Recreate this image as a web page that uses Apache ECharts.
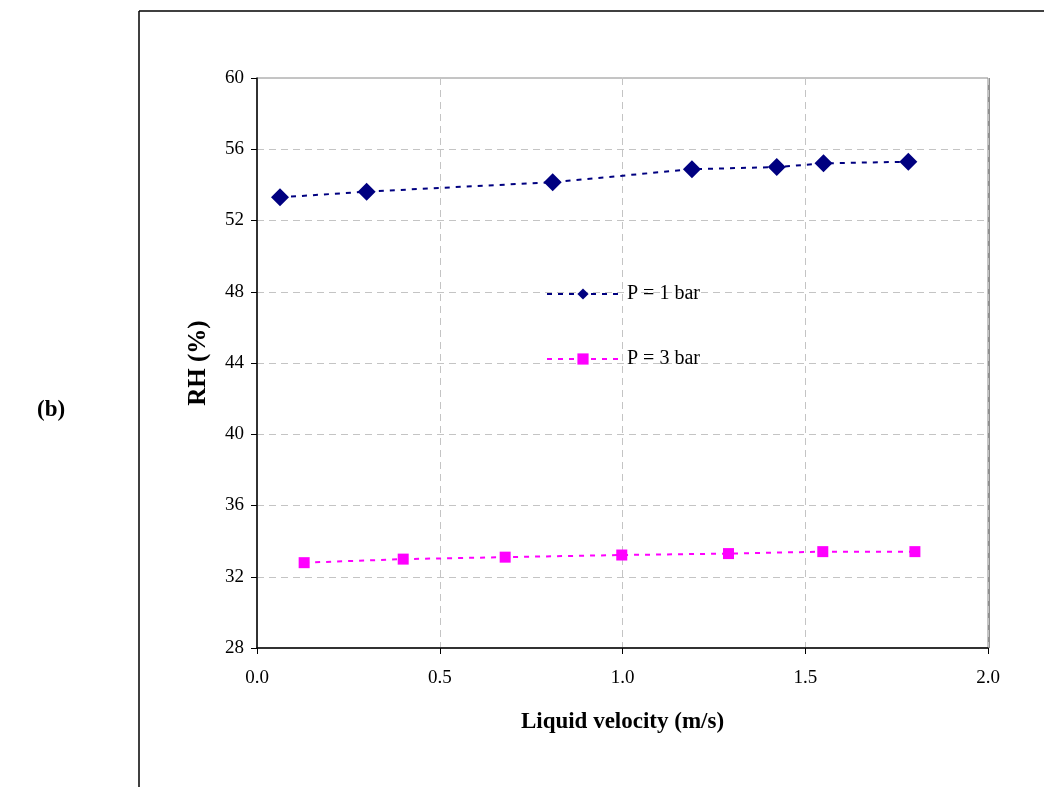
<!DOCTYPE html>
<html>
<head>
<meta charset="utf-8">
<script src="https://cdn.jsdelivr.net/npm/echarts@6/dist/echarts.min.js"></script>
<style>
html,body{margin:0;padding:0;background:#fff;}
#chart{width:1044px;height:787px;}
</style>
</head>
<body>
<div id="chart"></div>
<script>
// Data
const seriesNames = ['P = 1 bar', 'P = 3 bar'];
const p1Velocity = [0.063, 0.30, 0.809, 1.19, 1.422, 1.55, 1.782];
const p1RH       = [53.3, 53.62, 54.15, 54.88, 55.0, 55.21, 55.3];
const p3Velocity = [0.129, 0.40, 0.679, 0.998, 1.29, 1.548, 1.80];
const p3RH       = [32.79, 32.99, 33.1, 33.22, 33.3, 33.41, 33.41];
const xTicks = [0.0, 0.5, 1.0, 1.5, 2.0];
const yTicks = [28, 32, 36, 40, 44, 48, 52, 56, 60];

const FONT = '"Liberation Serif", "Times New Roman", serif';
const pairs = (xs, ys) => xs.map((x, i) => [x, ys[i]]);

const chart = echarts.init(document.getElementById('chart'), null, {renderer: 'canvas'});
chart.setOption({
  animation: false,
  backgroundColor: '#fff',
  textStyle: {fontFamily: FONT, color: '#000'},
  grid: {
    left: 257, right: 56, top: 78, bottom: 139,
    show: true, borderColor: '#8a8a8a', borderWidth: 1, backgroundColor: 'transparent'
  },
  graphic: [
    {type: 'line', shape: {x1: 139, y1: 11, x2: 1044, y2: 11}, style: {stroke: '#000', lineWidth: 1.5}, silent: true},
    {type: 'line', shape: {x1: 139, y1: 11, x2: 139, y2: 787}, style: {stroke: '#000', lineWidth: 1.5}, silent: true},
    {type: 'line', shape: {x1: 989, y1: 78, x2: 989, y2: 648}, style: {stroke: '#909090', lineWidth: 2}, silent: true},
    {type: 'text', left: 37, top: 399, style: {text: '(b)', font: 'bold 23px ' + FONT, fill: '#000'}, silent: true}
  ],
  legend: {
    orient: 'vertical',
    left: 541, top: 279,
    itemWidth: 72, itemHeight: 14,
    itemGap: 45,
    selectedMode: false,
    textStyle: {fontFamily: FONT, fontSize: 20, color: '#000', padding: [0, 0, 0, 3]},
    data: seriesNames
  },
  xAxis: {
    type: 'value',
    min: xTicks[0], max: xTicks[xTicks.length - 1], interval: 0.5,
    name: 'Liquid velocity (m/s)',
    nameLocation: 'middle', nameGap: 63,
    nameTextStyle: {fontFamily: FONT, fontSize: 23, fontWeight: 'bold', color: '#000'},
    axisLine: {show: true, onZero: false, lineStyle: {color: '#000', width: 1.5}},
    axisTick: {show: true, length: 6, inside: false, lineStyle: {color: '#000'}},
    axisLabel: {fontFamily: FONT, fontSize: 19, color: '#000', margin: 21, formatter: v => v.toFixed(1)},
    splitLine: {show: true, lineStyle: {color: '#c4c4c4', type: [7, 5], width: 1}}
  },
  yAxis: {
    type: 'value',
    min: yTicks[0], max: yTicks[yTicks.length - 1], interval: 4,
    name: 'RH (%)',
    nameLocation: 'middle', nameGap: 46, nameRotate: 90,
    nameTextStyle: {fontFamily: FONT, fontSize: 25, fontWeight: 'bold', color: '#000'},
    axisLine: {show: true, onZero: false, lineStyle: {color: '#000', width: 1.5}},
    axisTick: {show: true, length: 6, inside: false, lineStyle: {color: '#000'}},
    axisLabel: {fontFamily: FONT, fontSize: 19, color: '#000', margin: 13},
    splitLine: {show: true, lineStyle: {color: '#c4c4c4', type: [7, 5], width: 1}}
  },
  series: [
    {
      name: seriesNames[0], type: 'line',
      data: pairs(p1Velocity, p1RH),
      symbol: 'diamond', symbolSize: [18, 18],
      itemStyle: {color: '#000080'},
      lineStyle: {color: '#000080', width: 2, type: [5, 6]}
    },
    {
      name: seriesNames[1], type: 'line',
      data: pairs(p3Velocity, p3RH),
      symbol: 'rect', symbolSize: 11,
      itemStyle: {color: '#ff00ff'},
      lineStyle: {color: '#ff00ff', width: 2, type: [5, 6]}
    }
  ]
});
</script>
</body>
</html>
